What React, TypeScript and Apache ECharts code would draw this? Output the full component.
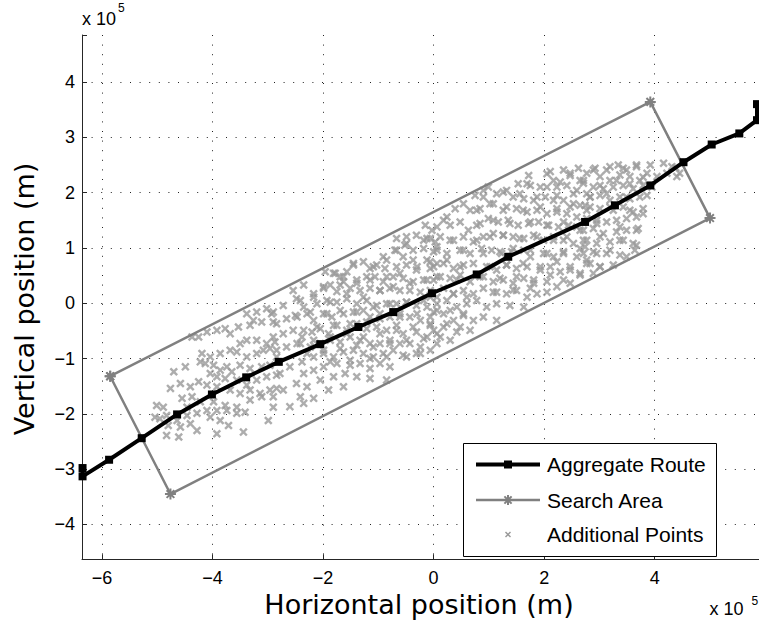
import React, { useEffect, useRef } from "react";
import * as echarts from "echarts";

// Values in units of 10^5 m
const routeX = [-6.35, -6.35, -5.87, -5.28, -4.64, -4.01, -3.39, -2.8, -2.05, -1.36, -0.73, -0.03, 0.78, 1.35, 2.74, 3.28, 3.92, 4.52, 5.03, 5.53, 5.85, 5.85];
const routeY = [-2.98, -3.13, -2.83, -2.44, -2.01, -1.65, -1.34, -1.06, -0.74, -0.43, -0.16, 0.18, 0.52, 0.84, 1.47, 1.77, 2.13, 2.55, 2.87, 3.07, 3.31, 3.6];

const searchX = [-5.85, 3.92, 5.0, -4.76, -5.85];
const searchY = [-1.32, 3.64, 1.54, -3.45, -1.32];

const additionalPoints: number[][] = [
  [-3.2, -0.16], [-3.02, -0.1], [-2.93, -0.19], [-3.38, -0.19], [-3.26, -0.31], [-3.11, -0.34], [-2.9, -0.34], [-3.32, -0.4], [-3.53, -0.43], [-3.77, -0.46],
  [-3.92, -0.49], [-4.1, -0.52], [-3.68, -0.55], [-4.37, -0.61], [-4.25, -0.61], [-3.38, -0.67], [-3.2, -0.67], [-3.5, -0.73], [-3.02, -0.73], [-2.87, -0.7],
  [-3.68, -0.85], [-3.56, -0.88], [-3.86, -0.91], [-4.19, -0.91], [-4.04, -0.97], [-3.38, -0.97], [-3.2, -0.91], [-3.08, -0.85], [-2.96, -0.82], [-2.84, -0.97],
  [-4.7, -1.24], [-4.49, -1.15], [-4.22, -1.06], [-4.13, -1.09], [-3.98, -1.12], [-3.86, -1.21], [-3.74, -1.15], [-3.65, -1.24], [-3.5, -1.12], [-3.32, -1.18],
  [-3.11, -1.15], [-2.96, -1.12], [-4.04, -1.27], [-3.92, -1.33], [-3.77, -1.36], [-3.56, -1.39], [-3.38, -1.48], [-3.2, -1.39], [-3.02, -1.33], [-2.84, -1.3],
  [-4.76, -1.54], [-4.58, -1.45], [-4.4, -1.51], [-4.25, -1.42], [-4.1, -1.48], [-3.92, -1.51], [-3.68, -1.57], [-3.5, -1.63], [-3.32, -1.57], [-3.14, -1.63],
  [-2.96, -1.57], [-2.84, -1.54], [-4.55, -1.72], [-4.37, -1.69], [-4.22, -1.78], [-3.98, -1.78], [-3.77, -1.85], [-3.56, -1.88], [-3.32, -1.75], [-3.11, -1.69],
  [-2.9, -1.69], [-5.01, -1.85], [-4.89, -1.88], [-4.46, -1.88], [-4.28, -1.99], [-4.1, -1.94], [-3.92, -1.94], [-3.74, -1.94], [-3.56, -1.99], [-5.04, -2.06],
  [-4.83, -2.03], [-4.64, -2.12], [-4.46, -2.03], [-4.04, -2.06], [-3.86, -2.12], [-3.41, -1.97], [-2.9, -1.88], [-4.95, -2.09], [-4.8, -2.21], [-4.58, -2.24],
  [-4.28, -2.3], [-3.92, -2.36], [-3.71, -2.21], [-3.44, -2.33], [-2.99, -2.12], [-4.83, -2.39], [-4.61, -2.42], [-4.4, -2.18],
  [-0.15, 1.41], [-0.03, 1.32], [-0.31, 1.23], [-0.12, 1.17], [0.03, 1.11], [-0.49, 1.2], [-0.67, 1.17], [-0.52, 1.05], [-0.7, 0.96], [-0.37, 0.96],
  [-0.18, 0.99], [0.0, 0.93], [-0.85, 0.78], [-0.55, 0.84], [-0.37, 0.78], [-0.12, 0.78], [0.06, 0.72], [-1.03, 0.69], [-0.88, 0.63], [-0.67, 0.66],
  [-0.49, 0.69], [-0.31, 0.6], [-0.06, 0.63], [-1.27, 0.75], [-1.15, 0.63], [-1.45, 0.69], [-1.57, 0.57], [-1.78, 0.54], [-1.69, 0.48], [-1.96, 0.57],
  [-1.63, 0.39], [-1.39, 0.42], [-1.21, 0.48], [-1.06, 0.48], [-0.91, 0.39], [-0.73, 0.48], [-0.55, 0.45], [-0.37, 0.39], [-0.18, 0.42], [0.0, 0.42],
  [-2.35, 0.33], [-2.54, 0.23], [-2.17, 0.17], [-1.99, 0.27], [-1.87, 0.33], [-1.75, 0.21], [-1.51, 0.27], [-1.33, 0.23], [-1.15, 0.27], [-0.97, 0.23],
  [-0.79, 0.27], [-0.61, 0.23], [-0.43, 0.23], [-0.24, 0.2], [-0.06, 0.11], [-2.9, -0.16], [-2.72, -0.04], [-2.48, 0.08], [-2.35, -0.07], [-2.11, -0.01],
  [-1.93, 0.05], [-1.75, 0.02], [-1.57, 0.08], [-1.39, -0.01], [-1.21, 0.05], [-1.03, -0.04], [-0.85, -0.01], [-0.67, -0.01], [-0.49, 0.02], [-0.31, -0.04],
  [-0.12, -0.07], [0.06, -0.13], [-2.84, -0.37], [-2.66, -0.28], [-2.5, -0.22], [-2.29, -0.19], [-2.17, -0.31], [-1.99, -0.19], [-1.84, -0.25], [-1.63, -0.19],
  [-1.45, -0.16], [-1.27, -0.13], [-1.15, -0.25], [-0.97, -0.19], [-0.79, -0.25], [-0.61, -0.19], [-0.43, -0.25], [-0.24, -0.31], [-0.06, -0.37], [-2.9, -0.61],
  [-2.72, -0.55], [-2.54, -0.49], [-2.38, -0.61], [-2.2, -0.52], [-2.05, -0.46], [-1.9, -0.55], [-1.75, -0.4], [-1.57, -0.49], [-1.39, -0.37], [-1.21, -0.46],
  [-1.03, -0.43], [-0.85, -0.49], [-0.67, -0.4], [-0.55, -0.55], [-0.31, -0.52], [-0.12, -0.61], [0.06, -0.55], [-2.84, -0.85], [-2.66, -0.79], [-2.41, -0.73],
  [-2.23, -0.79], [-2.05, -0.73], [-1.87, -0.67], [-1.69, -0.7], [-1.51, -0.61], [-1.33, -0.67], [-1.15, -0.73], [-0.97, -0.73], [-0.79, -0.67], [-0.61, -0.73],
  [-0.43, -0.73], [-0.24, -0.79], [-0.06, -0.85], [-2.78, -1.27], [-2.6, -1.15], [-2.38, -1.06], [-2.17, -0.97], [-1.99, -0.91], [-1.81, -0.97], [-1.63, -0.88],
  [-1.45, -0.85], [-1.27, -0.91], [-1.09, -0.97], [-0.91, -0.91], [-0.73, -0.85], [-0.49, -0.97], [-0.31, -0.91], [-2.35, -1.27], [-2.17, -1.21], [-1.99, -1.15],
  [-1.75, -1.09], [-1.51, -1.12], [-1.33, -1.09], [-1.15, -1.18], [-0.97, -1.09], [-0.79, -1.15], [-2.48, -1.45], [-2.29, -1.51], [-2.05, -1.39], [-1.81, -1.33],
  [-1.6, -1.27], [-1.39, -1.33], [-1.15, -1.36], [-0.85, -1.39], [-2.72, -1.57], [-2.41, -1.69], [-2.17, -1.72], [-1.9, -1.57], [-1.63, -1.51], [-2.6, -1.87],
  [-2.35, -1.81],
  [2.62, 2.44], [2.35, 2.41], [2.47, 2.31], [2.71, 2.22], [2.05, 2.34], [2.17, 2.22], [1.72, 2.31], [1.53, 2.16], [1.75, 2.13], [1.93, 2.1],
  [2.23, 2.1], [2.41, 2.13], [2.59, 2.04], [2.77, 1.98], [1.32, 2.04], [1.14, 1.98], [0.99, 2.1], [0.9, 1.92], [0.75, 1.95], [1.44, 1.92],
  [1.63, 1.89], [1.81, 1.86], [2.02, 1.92], [2.17, 1.86], [2.35, 1.86], [2.53, 1.8], [2.74, 1.77], [0.54, 1.8], [0.39, 1.71], [0.24, 1.56],
  [0.18, 1.5], [0.66, 1.68], [0.84, 1.71], [1.08, 1.8], [1.26, 1.68], [1.5, 1.71], [1.69, 1.65], [1.87, 1.68], [2.05, 1.62], [2.23, 1.65],
  [2.41, 1.62], [2.59, 1.56], [0.06, 1.38], [0.3, 1.41], [0.48, 1.47], [0.63, 1.32], [0.78, 1.41], [0.99, 1.53], [1.17, 1.47], [1.35, 1.5],
  [1.53, 1.41], [1.72, 1.44], [1.9, 1.47], [2.08, 1.41], [2.26, 1.38], [2.44, 1.41], [2.65, 1.32], [-0.06, 1.17], [0.12, 1.2], [0.3, 1.14],
  [0.54, 1.2], [0.72, 1.11], [0.9, 1.2], [1.08, 1.26], [1.26, 1.23], [1.44, 1.2], [1.63, 1.17], [1.81, 1.23], [1.99, 1.14], [2.17, 1.2],
  [2.35, 1.14], [2.53, 1.08], [2.74, 1.02], [0.06, 0.96], [0.24, 0.9], [0.48, 0.96], [0.66, 0.9], [0.87, 0.99], [1.05, 0.96], [1.23, 0.9],
  [1.41, 0.93], [1.63, 0.96], [1.75, 0.84], [1.99, 0.9], [2.17, 0.84], [2.35, 0.9], [2.59, 0.84], [2.77, 0.78], [0.0, 0.66], [0.18, 0.72],
  [0.36, 0.63], [0.54, 0.69], [0.72, 0.72], [0.96, 0.66], [1.14, 0.6], [1.32, 0.69], [1.5, 0.63], [1.69, 0.66], [1.93, 0.6], [2.11, 0.66],
  [2.29, 0.57], [2.47, 0.6], [2.65, 0.54], [0.06, 0.48], [0.3, 0.45], [0.48, 0.51], [0.66, 0.39], [0.9, 0.48], [1.08, 0.39], [1.26, 0.42],
  [1.44, 0.36], [1.63, 0.45], [1.81, 0.36], [2.05, 0.39], [2.23, 0.3], [2.47, 0.36], [-0.06, 0.23], [0.18, 0.27], [0.36, 0.17], [0.54, 0.23],
  [0.72, 0.17], [0.9, 0.27], [1.14, 0.2], [1.32, 0.17], [1.5, 0.23], [1.69, 0.11], [1.87, 0.17], [0.06, -0.01], [0.24, 0.05], [0.42, -0.07],
  [0.6, -0.01], [0.78, 0.05], [0.96, -0.07], [1.14, -0.01], [1.38, -0.04], [1.63, -0.07], [-0.06, -0.25], [0.18, -0.19], [0.36, -0.31], [0.54, -0.22],
  [0.72, -0.31], [0.9, -0.25], [1.14, -0.31], [0.0, -0.49], [0.18, -0.43], [0.42, -0.52], [0.66, -0.49], [0.06, -0.73], [0.3, -0.67],
  [2.92, 2.44], [3.13, 2.41], [3.34, 2.5], [3.49, 2.41], [3.67, 2.5], [3.92, 2.5], [4.16, 2.53], [4.31, 2.47], [4.22, 2.35], [4.4, 2.29],
  [4.04, 2.29], [3.86, 2.35], [3.73, 2.22], [3.55, 2.29], [3.37, 2.32], [3.19, 2.22], [3.01, 2.29], [2.77, 2.35], [2.71, 2.17], [2.89, 2.1],
  [3.07, 2.07], [3.25, 2.1], [3.43, 2.13], [3.61, 2.07], [3.79, 2.13], [3.95, 2.1], [2.83, 1.92], [3.01, 1.95], [3.19, 1.86], [3.37, 1.92],
  [3.55, 1.89], [3.73, 1.92], [3.86, 1.95], [2.65, 1.77], [2.83, 1.74], [3.01, 1.71], [3.25, 1.68], [3.43, 1.74], [3.61, 1.65], [3.79, 1.71],
  [2.77, 1.53], [2.95, 1.5], [3.13, 1.47], [3.31, 1.5], [3.49, 1.53], [3.67, 1.56], [2.71, 1.32], [2.89, 1.35], [3.07, 1.26], [3.31, 1.29],
  [3.49, 1.32], [3.7, 1.35], [2.77, 1.14], [2.95, 1.08], [3.19, 1.11], [3.43, 1.14], [3.61, 1.08], [2.71, 0.9], [2.89, 0.93], [3.13, 0.9],
  [3.37, 0.87], [3.64, 0.96], [2.83, 0.72], [3.01, 0.66], [3.25, 0.69], [2.89, 0.54], [4.45, 2.35], [4.38, 2.45],
  [2.11, 2.38], [2.47, 2.35], [2.89, 2.41], [3.19, 2.47], [3.43, 2.44], [3.67, 2.47], [1.69, 2.16], [2.05, 2.1], [2.29, 2.19], [2.65, 2.22],
  [3.01, 2.13], [3.31, 2.22], [3.55, 2.16], [3.79, 2.28], [0.9, 2.04], [1.26, 2.01], [1.56, 1.98], [1.87, 1.92], [2.23, 1.95], [2.53, 1.98],
  [2.83, 1.92], [3.13, 1.98], [3.49, 1.92], [0.78, 1.68], [1.02, 1.8], [1.32, 1.74], [1.62, 1.68], [1.93, 1.74], [2.23, 1.71], [2.47, 1.74],
  [2.77, 1.68], [3.19, 1.74], [3.55, 1.68], [3.79, 1.62], [0.84, 1.44], [1.08, 1.5], [1.38, 1.44], [1.75, 1.47], [2.05, 1.41], [2.35, 1.47],
  [2.59, 1.38], [2.95, 1.44], [3.37, 1.38], [3.67, 1.32], [0.78, 1.14], [1.02, 1.2], [1.26, 1.23], [1.56, 1.17], [1.87, 1.2], [2.17, 1.14],
  [2.41, 1.2], [2.71, 1.14], [3.01, 1.2], [3.37, 1.14], [3.67, 1.05], [0.9, 0.9], [1.2, 0.93], [1.44, 0.99], [1.75, 0.96], [2.05, 0.9],
  [2.35, 0.93], [2.65, 0.99], [2.95, 0.9], [3.19, 0.96], [3.49, 0.84], [1.02, 0.66], [1.32, 0.69], [1.62, 0.72], [1.93, 0.66], [2.23, 0.75],
  [2.47, 0.66], [2.77, 0.72], [3.01, 0.66], [0.84, 0.48], [1.2, 0.45], [1.5, 0.48], [1.81, 0.42], [2.11, 0.51], [2.35, 0.42], [2.65, 0.51],
  [1.08, 0.2], [1.44, 0.24], [1.75, 0.27], [2.05, 0.2],
  [-1.81, 0.54], [-1.63, 0.48], [-1.45, 0.72], [-1.09, 0.66], [-0.91, 0.84], [-0.67, 0.96], [-0.49, 1.08], [-0.18, 1.14], [0.06, 1.02], [0.36, 1.14],
  [0.54, 0.96], [-1.99, 0.3], [-1.69, 0.33], [-1.39, 0.36], [-1.15, 0.42], [-0.85, 0.48], [-0.61, 0.54], [-0.3, 0.66], [-0.06, 0.75], [0.24, 0.78],
  [0.48, 0.66], [-2.41, 0.05], [-2.17, 0.11], [-1.87, 0.02], [-1.57, 0.17], [-1.27, 0.11], [-0.97, 0.23], [-0.73, 0.3], [-0.43, 0.36], [-0.12, 0.42],
  [0.12, 0.48], [0.42, 0.42], [-2.47, -0.25], [-2.23, -0.16], [-1.93, -0.19], [-1.69, -0.13], [-1.39, -0.16], [-1.09, -0.07], [-0.79, -0.01], [-0.49, 0.02],
  [-0.18, 0.05], [0.06, 0.11], [0.36, 0.17], [0.6, 0.11], [-2.35, -0.49], [-2.11, -0.43], [-1.81, -0.4], [-1.51, -0.37], [-1.21, -0.34], [-0.97, -0.28],
  [-0.61, -0.25], [-0.3, -0.19], [0.0, -0.16], [0.3, -0.13], [0.54, -0.19], [-2.47, -0.73], [-2.17, -0.67], [-1.87, -0.61], [-1.57, -0.55], [-1.27, -0.61],
  [-0.97, -0.55], [-0.67, -0.49], [-0.37, -0.43], [-0.06, -0.4], [0.24, -0.37], [0.48, -0.43], [-2.29, -0.91], [-1.99, -0.85], [-1.69, -0.82], [-1.39, -0.76],
  [-1.09, -0.79], [-0.79, -0.73], [-0.49, -0.67], [-0.18, -0.64], [0.12, -0.61], [-1.87, -1.06], [-1.51, -1.03], [-1.15, -1.0], [-0.85, -0.97], [-0.55, -0.94],
  [-0.24, -0.91]
];

const STAR = "path://M5,0L5,10M0,5L10,5M1.5,1.5L8.5,8.5M8.5,1.5L1.5,8.5";
const CROSS = "path://M0,1.2L1.2,0L3,1.8L4.8,0L6,1.2L4.2,3L6,4.8L4.8,6L3,4.2L1.2,6L0,4.8L1.8,3Z";

const tickFmt = (v: number) => {
  if (Math.abs(v - Math.round(v)) > 1e-6) return "";
  const r = Math.round(v);
  return r < 0 ? "\u2212" + Math.abs(r) : String(r);
};

export default function App() {
  const ref = useRef<HTMLDivElement>(null);
  useEffect(() => {
    if (!ref.current) return;
    const chart = echarts.init(ref.current, null, { renderer: "svg" });
    const axisColor = "#262626";
    const gridLine = { show: true, lineStyle: { color: "#222", width: 1, type: [1, 8.6] } };
    const lbl = { color: "#000", fontFamily: "Liberation Sans", fontSize: 18 };
    const gray = "#808080";
    const ptGray = "#999999";
    const z = 100;
    const starLines = (cx: number, cy: number, r: number) => {
      const d = r * 0.72;
      return [
        [cx - r, cy, cx + r, cy],
        [cx, cy - r, cx, cy + r],
        [cx - d, cy - d, cx + d, cy + d],
        [cx + d, cy - d, cx - d, cy + d],
      ].map((s) => ({
        type: "line",
        z,
        shape: { x1: s[0], y1: s[1], x2: s[2], y2: s[3] },
        style: { stroke: gray, lineWidth: 2 },
      }));
    };
    chart.setOption({
      animation: false,
      backgroundColor: "#fff",
      grid: { left: 82, top: 35, width: 683.3, height: 524.3, containLabel: false, outerBoundsMode: "none" },
      xAxis: {
        type: "value",
        min: -6.36,
        max: 6.0,
        splitNumber: 6,
        axisLine: { show: true, onZero: false, lineStyle: { color: axisColor, width: 1 } },
        axisTick: { show: true, inside: true, length: 5, lineStyle: { color: axisColor } },
        axisLabel: { ...lbl, margin: 10, formatter: (v: number) => (v > 5 ? "" : tickFmt(v)) },
        splitLine: { ...gridLine, showMinLine: false, showMaxLine: false },
      },
      yAxis: {
        type: "value",
        min: -4.63,
        max: 4.85,
        splitNumber: 10,
        axisLine: { show: true, onZero: false, lineStyle: { color: axisColor, width: 1 } },
        axisTick: { show: true, inside: true, length: 5, lineStyle: { color: axisColor } },
        axisLabel: { ...lbl, margin: 7, formatter: tickFmt },
        splitLine: { ...gridLine, showMinLine: false, showMaxLine: false },
      },
      series: [
        {
          name: "Aggregate Route",
          type: "line",
          data: routeX.map((x, i) => [x, routeY[i]]),
          symbol: "rect",
          symbolSize: 8,
          showAllSymbol: true,
          lineStyle: { color: "#000", width: 4 },
          itemStyle: { color: "#000" },
          clip: true,
          silent: true,
        },
        {
          name: "Search Area",
          type: "line",
          data: searchX.map((x, i) => [x, searchY[i]]),
          symbol: STAR,
          symbolSize: 11,
          showAllSymbol: true,
          lineStyle: { color: gray, width: 2.5 },
          itemStyle: { color: gray, borderColor: gray, borderWidth: 2 },
          clip: true,
          silent: true,
        },
        {
          name: "Additional Points",
          type: "scatter",
          data: additionalPoints,
          symbol: CROSS,
          symbolSize: 8.5,
          itemStyle: { color: ptGray },
          clip: true,
          silent: true,
        },
      ],
      graphic: [
        { type: "text", z, x: 82, y: 19, style: { text: "x 10", fill: "#000", font: "18px 'Liberation Sans'", verticalAlign: "middle", align: "left" } },
        { type: "text", z, x: 118, y: 8, style: { text: "5", fill: "#000", font: "12px 'Liberation Sans'", verticalAlign: "middle", align: "left" } },
        { type: "text", z, x: 709.5, y: 609, style: { text: "x 10", fill: "#000", font: "18px 'Liberation Sans'", verticalAlign: "middle", align: "left" } },
        { type: "text", z, x: 751.5, y: 601, style: { text: "5", fill: "#000", font: "12px 'Liberation Sans'", verticalAlign: "middle", align: "left" } },
        { type: "text", z, x: 419, y: 604, style: { text: "Horizontal position (m)", fill: "#000", font: "27px 'DejaVu Sans'", verticalAlign: "middle", align: "center" } },
        { type: "text", z, x: 24, y: 299, rotation: Math.PI / 2, style: { text: "Vertical position (m)", fill: "#000", font: "27px 'DejaVu Sans'", verticalAlign: "middle", align: "center" } },
        { type: "rect", z, shape: { x: 463.5, y: 443.5, width: 253, height: 113 }, style: { fill: "#fff", stroke: "#000", lineWidth: 1 } },
        { type: "line", z, shape: { x1: 476, y1: 464.5, x2: 540, y2: 464.5 }, style: { stroke: "#000", lineWidth: 4 } },
        { type: "rect", z, shape: { x: 504, y: 460.5, width: 8, height: 8 }, style: { fill: "#000" } },
        { type: "line", z, shape: { x1: 476, y1: 500, x2: 540, y2: 500 }, style: { stroke: gray, lineWidth: 2.5 } },
        ...starLines(508, 500, 5),
        { type: "line", z, shape: { x1: 505.5, y1: 532, x2: 510.5, y2: 537 }, style: { stroke: ptGray, lineWidth: 1.5 } },
        { type: "line", z, shape: { x1: 510.5, y1: 532, x2: 505.5, y2: 537 }, style: { stroke: ptGray, lineWidth: 1.5 } },
        { type: "text", z, x: 547, y: 464.5, style: { text: "Aggregate Route", fill: "#000", font: "21px 'Liberation Sans'", verticalAlign: "middle", align: "left" } },
        { type: "text", z, x: 547, y: 500, style: { text: "Search Area", fill: "#000", font: "21px 'Liberation Sans'", verticalAlign: "middle", align: "left" } },
        { type: "text", z, x: 547, y: 534.5, style: { text: "Additional Points", fill: "#000", font: "21px 'Liberation Sans'", verticalAlign: "middle", align: "left" } },
      ],
    });
    return () => chart.dispose();
  }, []);
  return (
    <div
      ref={ref}
      style={{ position: "fixed", left: 0, top: 0, width: 759, height: 625, background: "#fff" }}
    />
  );
}
